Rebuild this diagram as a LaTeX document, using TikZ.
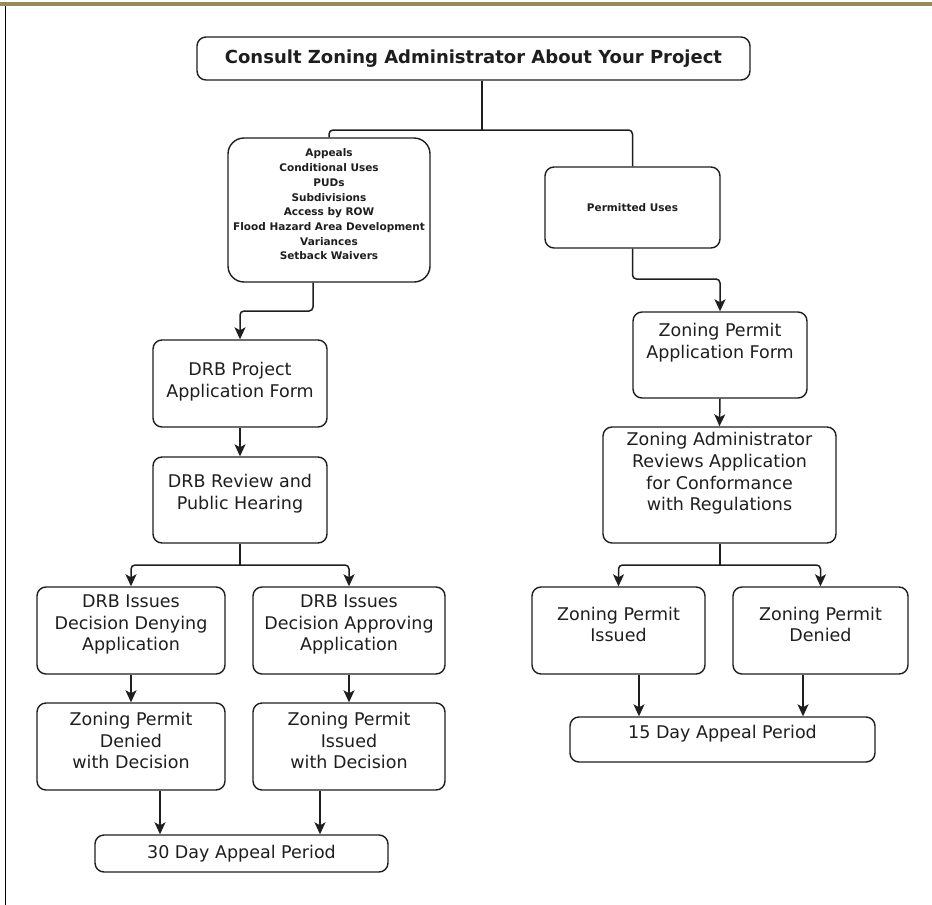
\documentclass[tikz,border=0pt]{standalone}
\usepackage{fontspec}
\setmainfont{DejaVu Sans}
\usepackage{tikz}
\usetikzlibrary{arrows.meta}
\usetikzlibrary{positioning}
\definecolor{framebar}{RGB}{150,140,88}
\definecolor{ink}{RGB}{30,30,30}
\tikzset{box/.style={draw=ink,
                     line width=1.4pt,
                     rounded corners=9pt,
                     inner sep=0pt}}
\tikzset{link/.style={draw=ink,
                      line width=1.5pt,
                      rounded corners=4pt}}
\tikzset{flow/.style={link,
                      -{Stealth[length=12pt,width=11pt,inset=3pt]}}}

\begin{document}
\begin{tikzpicture}
    [
      x=1pt, y=-1pt,
      txt/.style = {align=center, inner sep=0pt, text=ink, font=\fontsize{17.5}{21.7}\selectfont},
      small/.style = {align=center, inner sep=0pt, text=ink, font=\bfseries\fontsize{10.5}{14.7}\selectfont},
    ]
    \useasboundingbox (0,0) rectangle (932,905);

    % frame
    \fill[framebar] (0,2) rectangle (932,6);
    \draw[black, line width=1pt] (5.5,6) -- (5.5,905);

    % top
    \node [box, minimum width=553, minimum height=43,
           label={[txt, font=\bfseries\fontsize{18}{20}\selectfont]center:Consult Zoning Administrator About Your Project}] (top) at (473.5,58.5) {};

    % DRB side
    \node [box, rounded corners=16pt, minimum width=202, minimum height=144,
           label={[small, yshift=5.5]center:{Appeals\\Conditional Uses\\PUDs\\Subdivisions\\Access by ROW\\Flood Hazard Area Development\\Variances\\Setback Waivers}}] (appeals) at (329,210) {};
    \node [box, minimum width=174, minimum height=87,
           label={[txt, yshift=2]center:{DRB Project\\Application Form}}] (drbform) at (240,383.5) {};
    \node [box, minimum width=174, minimum height=86,
           label={[txt, yshift=6]center:{DRB Review and\\Public Hearing}}] (drbreview) at (240,500) {};
    \node [box, minimum width=188, minimum height=87,
           label={[txt, yshift=6]center:{DRB Issues\\Decision Denying\\Application}}] (deny) at (131,630.5) {};
    \node [box, minimum width=192, minimum height=87,
           label={[txt, yshift=6]center:{DRB Issues\\Decision Approving\\Application}}] (approve) at (349,630.5) {};
    \node [box, minimum width=188, minimum height=87,
           label={[txt, yshift=6]center:{Zoning Permit\\Denied\\with Decision}}] (zpdenydec) at (131,746.5) {};
    \node [box, minimum width=192, minimum height=87,
           label={[txt, yshift=6]center:{Zoning Permit\\Issued\\with Decision}}] (zpissuedec) at (349,746.5) {};
    \node [box, minimum width=293, minimum height=37,
           label={[txt]center:30 Day Appeal Period}] (thirty) at (241.5,853.5) {};

    % permit side
    \node [box, minimum width=175, minimum height=81,
           label={[small]center:Permitted Uses}] (permitted) at (632.5,207.5) {};
    \node [box, minimum width=174, minimum height=86,
           label={[txt, yshift=12]center:{Zoning Permit\\Application Form}}] (zpform) at (720,355) {};
    \node [box, minimum width=233, minimum height=116,
           label={[txt, yshift=11.5]center:{Zoning Administrator\\Reviews Application\\for Conformance\\with Regulations}}] (zareview) at (719.5,485) {};
    \node [box, minimum width=173, minimum height=87,
           label={[txt, yshift=6]center:{Zoning Permit\\Issued}}] (zpissued) at (618.5,630.5) {};
    \node [box, minimum width=175, minimum height=87,
           label={[txt, yshift=6]center:{Zoning Permit\\Denied}}] (zpdenied) at (820.5,630.5) {};
    \node [box, minimum width=305, minimum height=45,
           label={[txt, yshift=5.5]center:15 Day Appeal Period}] (fifteen) at (722.5,739.5) {};

    % junctions
    \coordinate (splittop) at (482,130);
    \coordinate (bendA) at (313,311);
    \coordinate (bendB) at (633,279);
    \coordinate (splitD) at (240,565);
    \coordinate (splitZ) at (720,565);

    % connectors
    \draw [link] (top.south -| splittop) -- (splittop);
    \draw [link] (appeals.north) |- (splittop) -| (permitted.north);
    \draw [flow] (appeals.south -| bendA) -- (bendA) -| (drbform.north);
    \draw [flow] (permitted.south) -- (permitted.south |- bendB) -| (zpform.north);
    \draw [link] (drbreview.south) -- (splitD);
    \draw [link] (zareview.south -| splitZ) -- (splitZ);
    \foreach \s/\d in {splitD/deny, splitD/approve, splitZ/zpissued, splitZ/zpdenied}
      \draw [flow] (\s) -| (\d.north);
    \foreach \a/\b in {drbform/drbreview, zpform/zareview, deny/zpdenydec, approve/zpissuedec}
      \draw [flow] (\a.south) -- (\b.north);
    \foreach \src/\dst/\dx in {zpdenydec/thirty/29, zpissuedec/thirty/-29, zpissued/fifteen/20.5, zpdenied/fifteen/-17.5}
      \draw [flow] ([xshift=\dx]\src.south) -- ([xshift=\dx]\src.south |- \dst.north);

  \end{tikzpicture}
\end{document}
